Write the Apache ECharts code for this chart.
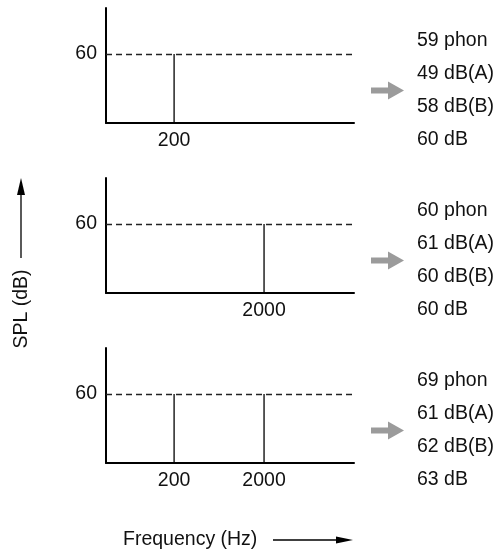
<!DOCTYPE html>
<html>
<head>
<meta charset="utf-8">
<script src="https://cdn.jsdelivr.net/npm/echarts@6/dist/echarts.min.js"></script>
<style>
  html, body { margin: 0; padding: 0; background: #fff; }
  #chart { width: 497px; height: 552px; }
</style>
</head>
<body>
<div id="chart"></div>
<script>
// Spectral lines for each of the three example sounds (Hz) and their levels (dB SPL)
const panelFreqs = [[200], [2000], [200, 2000]];
const panelLevels = [[60], [60], [60, 60]];
const refLevel = 60;
const yTicks = [60];

// Resulting loudness / weighted levels for each sound
const phonValues = [59, 60, 69];
const dbAValues = [49, 61, 61];
const dbBValues = [58, 60, 62];
const dbLinValues = [60, 60, 63];

const FONT = 'Liberation Sans, Arial, Helvetica, sans-serif';
const FS = 19.5;
const PANEL_STEP = 170;

const chart = echarts.init(document.getElementById('chart'), null, { renderer: 'canvas' });

const grids = [], xAxes = [], yAxes = [], series = [], graphics = [];

panelFreqs.forEach(function (freqs, i) {
  grids.push({ left: 106, top: 8 + PANEL_STEP * i, width: 248, height: 115 });
  xAxes.push({
    gridIndex: i, type: 'log', logBase: 10, min: 35, max: 20000,
    axisLine: { show: true, onZero: false, lineStyle: { color: '#000', width: 2 } },
    axisTick: { show: false }, splitLine: { show: false },
    axisLabel: {
      customValues: freqs, fontSize: FS, fontFamily: FONT, color: '#111', margin: 8,
      formatter: function (v) { return String(Math.round(v)); }
    }
  });
  yAxes.push({
    gridIndex: i, type: 'value', min: 0, max: 100,
    axisLine: { show: true, onZero: false, lineStyle: { color: '#000', width: 2 } },
    axisTick: { show: false }, splitLine: { show: false },
    axisLabel: { customValues: yTicks, fontSize: FS, fontFamily: FONT, color: '#111', margin: 9 }
  });
  freqs.forEach(function (f, k) {
    const s = {
      type: 'line', xAxisIndex: i, yAxisIndex: i, silent: true,
      data: [[f, 0], [f, panelLevels[i][k]]],
      symbol: 'none', lineStyle: { color: '#000', width: 1.3 }
    };
    if (k === 0) {
      s.markLine = {
        silent: true, symbol: ['none', 'none'], label: { show: false },
        lineStyle: { type: [6, 4], color: '#222', width: 1.4 },
        data: [{ yAxis: refLevel }]
      };
    }
    series.push(s);
  });

  // readings column on the right
  const off = PANEL_STEP * i;
  const lines = [
    phonValues[i] + ' phon',
    dbAValues[i] + ' dB(A)',
    dbBValues[i] + ' dB(B)',
    dbLinValues[i] + ' dB'
  ];
  const lineYs = [41, 74, 107, 140];
  lines.forEach(function (t, j) {
    graphics.push({
      type: 'text', x: 417, y: lineYs[j] + off, silent: true,
      style: { text: t, fontSize: FS, fontFamily: FONT, fill: '#111', align: 'left', verticalAlign: 'middle' }
    });
  });
  // grey block arrow pointing at the readings
  const c = 90.5 + off;
  graphics.push({
    type: 'polygon', silent: true,
    shape: { points: [[371, c - 3], [388, c - 3], [388, c - 9], [404, c], [388, c + 9], [388, c + 3], [371, c + 3]] },
    style: { fill: '#9b9b9b' }
  });
});

// vertical axis caption with arrow
graphics.push({
  type: 'text', x: 22, y: 309, rotation: Math.PI / 2, silent: true,
  style: { text: 'SPL (dB)', fontSize: FS, fontFamily: FONT, fill: '#111', align: 'center', verticalAlign: 'middle' }
});
graphics.push({ type: 'line', silent: true, shape: { x1: 21, y1: 258, x2: 21, y2: 192 }, style: { stroke: '#000', lineWidth: 1.3 } });
graphics.push({ type: 'polygon', silent: true, shape: { points: [[21, 178], [17, 195], [25, 195]] }, style: { fill: '#000' } });

// horizontal axis caption with arrow
graphics.push({
  type: 'text', x: 123, y: 540, silent: true,
  style: { text: 'Frequency (Hz)', fontSize: FS, fontFamily: FONT, fill: '#111', align: 'left', verticalAlign: 'middle' }
});
graphics.push({ type: 'line', silent: true, shape: { x1: 273, y1: 540, x2: 340, y2: 540 }, style: { stroke: '#000', lineWidth: 1.3 } });
graphics.push({ type: 'polygon', silent: true, shape: { points: [[353, 540], [336, 536.5], [336, 543.5]] }, style: { fill: '#000' } });

chart.setOption({
  animation: false,
  backgroundColor: '#fff',
  grid: grids,
  xAxis: xAxes,
  yAxis: yAxes,
  series: series,
  graphic: graphics
});
</script>
</body>
</html>
